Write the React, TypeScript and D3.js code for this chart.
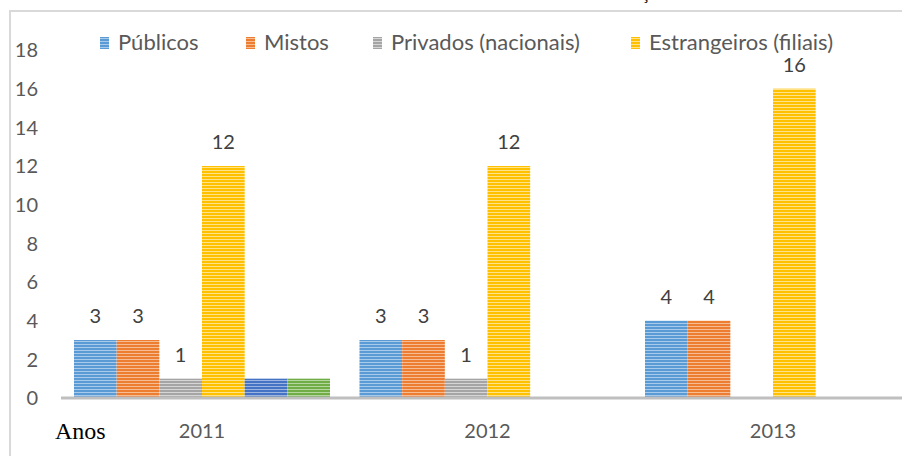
import React, { useEffect, useRef } from 'react';
import * as d3 from 'd3';

const years = ['2011', '2012', '2013'];
const publicos = [3, 3, 4];
const mistos = [3, 3, 4];
const privados = [1, 1, null];
const estrangeiros = [12, 12, 16];
const extraA = [1, null, null];
const extraB = [1, null, null];
const yTicks = [0, 2, 4, 6, 8, 10, 12, 14, 16, 18];

const series = [
  { key: 'pub', name: 'Públicos', values: publicos, color: '#5b9bd5', light: '#a9cbeb', legend: true, labels: true },
  { key: 'mis', name: 'Mistos', values: mistos, color: '#ed7d31', light: '#f6bc94', legend: true, labels: true },
  { key: 'pri', name: 'Privados (nacionais)', values: privados, color: '#a5a5a5', light: '#d6d6d6', legend: true, labels: true },
  { key: 'est', name: 'Estrangeiros (filiais)', values: estrangeiros, color: '#ffc000', light: '#ffe38a', legend: true, labels: true },
  { key: 'exa', name: '', values: extraA, color: '#4472c4', light: '#9db4e0', legend: false, labels: false },
  { key: 'exb', name: '', values: extraB, color: '#70ad47', light: '#b5d69f', legend: false, labels: false },
];

const W = 902;
const H = 456;
const FONT = 'Lato, "Open Sans", sans-serif';

const App = () => {
  const svgRef = useRef<SVGSVGElement>(null);

  useEffect(() => {
    const svg = d3.select(svgRef.current);
    svg.selectAll('*').remove();

    const band = 285.5;
    const x0 = d3.scaleBand().domain(years).range([59.25, 59.25 + band * years.length]);
    const gap = band * 0.1033;
    const x1 = d3.scaleBand().domain(series.map(s => s.key)).range([gap / 2, band - gap / 2]);
    const y = d3.scaleLinear().domain([0, 18]).range([398, 50]);

    // stripe patterns
    const defs = svg.append('defs');
    series.forEach(s => {
      const p = defs.append('pattern')
        .attr('id', 'pat-' + s.key)
        .attr('patternUnits', 'userSpaceOnUse')
        .attr('width', 8).attr('height', 3);
      p.append('rect').attr('width', 8).attr('height', 3).attr('fill', s.light);
      p.append('rect').attr('width', 8).attr('height', 2).attr('fill', s.color);
    });

    // frame
    svg.append('path')
      .attr('d', `M10,${H} L10,11 L${W},11`)
      .attr('fill', 'none')
      .attr('stroke', '#d9d9d9')
      .attr('stroke-width', 2);

    // title sits above the frame, only the cedilla shows
    svg.append('text')
      .attr('x', 649).attr('y', -1)
      .attr('text-anchor', 'end')
      .attr('font-family', '"Liberation Serif", serif')
      .attr('font-size', 16)
      .attr('fill', '#000')
      .text('Evoluç');

    // y tick labels
    svg.append('g').selectAll('text')
      .data(yTicks)
      .enter().append('text')
      .attr('x', 38)
      .attr('y', d => y(d))
      .attr('dy', '0.36em')
      .attr('text-anchor', 'end')
      .attr('font-family', FONT)
      .attr('font-size', 20)
      .attr('fill', '#595959')
      .text(d => d);

    // bars
    const groups = svg.append('g').selectAll('g')
      .data(years)
      .enter().append('g')
      .attr('transform', d => `translate(${x0(d)},0)`);

    groups.selectAll('rect')
      .data((d, i) => series.filter(s => s.values[i] != null).map(s => ({ s, v: s.values[i] as number })))
      .enter().append('rect')
      .attr('x', d => x1(d.s.key)!)
      .attr('width', x1.bandwidth())
      .attr('y', d => y(d.v))
      .attr('height', d => y(0) - y(d.v))
      .attr('fill', d => `url(#pat-${d.s.key})`);

    groups.selectAll('text')
      .data((d, i) => series.filter(s => s.labels && s.values[i] != null).map(s => ({ s, v: s.values[i] as number })))
      .enter().append('text')
      .attr('x', d => x1(d.s.key)! + x1.bandwidth() / 2)
      .attr('y', d => y(d.v) - 17)
      .attr('text-anchor', 'middle')
      .attr('font-family', FONT)
      .attr('font-size', 20)
      .attr('fill', '#404040')
      .text(d => d.v);

    // x axis line
    svg.append('line')
      .attr('x1', 61).attr('x2', W)
      .attr('y1', y(0)).attr('y2', y(0))
      .attr('stroke', '#bfbfbf')
      .attr('stroke-width', 3);

    // x tick labels
    svg.append('g').selectAll('text')
      .data(years)
      .enter().append('text')
      .attr('x', d => x0(d)! + band / 2)
      .attr('y', 438)
      .attr('text-anchor', 'middle')
      .attr('font-family', FONT)
      .attr('font-size', 20)
      .attr('fill', '#595959')
      .text(d => d);

    svg.append('text')
      .attr('x', 55).attr('y', 439)
      .attr('font-family', '"Liberation Serif", "Times New Roman", serif')
      .attr('font-size', 24)
      .attr('fill', '#000')
      .text('Anos');

    // legend
    const legendX = [100, 246, 373, 631];
    const leg = svg.append('g').selectAll('g')
      .data(series.filter(s => s.legend))
      .enter().append('g')
      .attr('transform', (d, i) => `translate(${legendX[i]},0)`);
    leg.append('rect')
      .attr('x', 0).attr('y', 37)
      .attr('width', 9).attr('height', 12)
      .attr('fill', d => `url(#pat-${d.key})`);
    leg.append('text')
      .attr('x', 18).attr('y', 50)
      .attr('font-family', FONT)
      .attr('font-size', 22)
      .attr('fill', '#595959')
      .text(d => d.name);
  }, []);

  return (
    <svg
      ref={svgRef}
      width={W}
      height={H}
      style={{ position: 'absolute', left: 0, top: 0, background: '#fff' }}
    />
  );
};

export default App;
